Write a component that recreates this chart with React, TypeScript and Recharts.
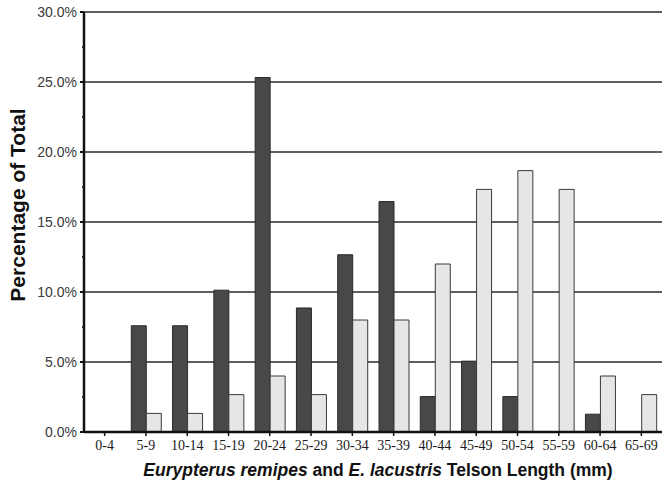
import React from 'react';
import { BarChart, Bar, XAxis, YAxis, CartesianGrid, Label } from 'recharts';

const categories = ['0-4', '5-9', '10-14', '15-19', '20-24', '25-29', '30-34', '35-39', '40-44', '45-49', '50-54', '55-59', '60-64', '65-69'];
const remipes = [0, 7.59, 7.59, 10.13, 25.32, 8.86, 12.66, 16.46, 2.53, 5.06, 2.53, 0, 1.27, 0];
const lacustris = [0, 1.33, 1.33, 2.67, 4.0, 2.67, 8.0, 8.0, 12.0, 17.33, 18.67, 17.33, 4.0, 2.67];
const yTicks = [0, 2.5, 5, 7.5, 10, 12.5, 15, 17.5, 20, 22.5, 25, 27.5, 30];
const gridValues = [5, 10, 15, 20, 25, 30];

const data = categories.map((c, i) => ({ cat: c, remipes: remipes[i], lacustris: lacustris[i] }));

const SANS = '"Liberation Sans", Arial, sans-serif';
const SERIF = '"Liberation Serif", "Times New Roman", serif';

const YTick = (props: any) => {
  const { x, y, payload } = props;
  const v = payload.value as number;
  const major = Math.abs(v % 5) < 1e-6;
  return (
    <g>
      <line x1={x - (major ? 4 : 2)} x2={x} y1={y} y2={y} stroke="#111" strokeWidth={major ? 2 : 1.5} />
      {major && (
        <text x={x - 7} y={y} dy="0.36em" textAnchor="end" fontFamily={SANS} fontSize={14} fill="#3a3a3a">
          {v.toFixed(1) + '%'}
        </text>
      )}
    </g>
  );
};

const YTitle = () => (
  <text
    x={17}
    y={205}
    transform="rotate(-90 17 205)"
    textAnchor="middle"
    dominantBaseline="central"
    fontFamily={SANS}
    fontWeight="bold"
    fontSize={21}
    fill="#111"
  >
    Percentage of Total
  </text>
);

const XTitle = () => (
  <text x={378} y={476} textAnchor="middle" fontFamily={SANS} fontWeight="bold" fontSize={17.5} fill="#111">
    <tspan fontStyle="italic">Eurypterus remipes</tspan>
    <tspan> and </tspan>
    <tspan fontStyle="italic">E. lacustris</tspan>
    <tspan> Telson Length (mm)</tspan>
  </text>
);

export default function App() {
  return (
    <div style={{ position: 'absolute', left: 0, top: 0, width: 662, height: 483, background: '#fff' }}>
      <BarChart
        width={662}
        height={483}
        data={data}
        margin={{ top: 12, right: 0, bottom: 0, left: 0 }}
        barCategoryGap={6}
        barGap={0}
      >
        <CartesianGrid
          horizontal={true}
          vertical={false}
          horizontalValues={gridValues}
          stroke="#2a2a2a"
          strokeWidth={1.5}
          strokeOpacity={1}
        />
        <XAxis
          dataKey="cat"
          height={51}
          interval={0}
          tickSize={4}
          tickMargin={4}
          axisLine={{ stroke: '#111', strokeWidth: 2.5 }}
          tickLine={{ stroke: '#111', strokeWidth: 1.5 }}
          tick={{ fontFamily: SERIF, fontSize: 14, fill: '#1a1a1a' }}
        >
          <Label content={<XTitle />} />
        </XAxis>
        <YAxis
          width={84}
          domain={[0, 30]}
          ticks={yTicks}
          interval={0}
          tickSize={0}
          tickMargin={0}
          tickLine={false}
          axisLine={{ stroke: '#111', strokeWidth: 2.5 }}
          tick={<YTick />}
        >
          <Label content={<YTitle />} />
        </YAxis>
        <Bar dataKey="remipes" fill="#484848" stroke="#2a2a2a" strokeWidth={1} isAnimationActive={false} />
        <Bar dataKey="lacustris" fill="#e6e6e6" stroke="#3a3a3a" strokeWidth={1} isAnimationActive={false} />
      </BarChart>
    </div>
  );
}
